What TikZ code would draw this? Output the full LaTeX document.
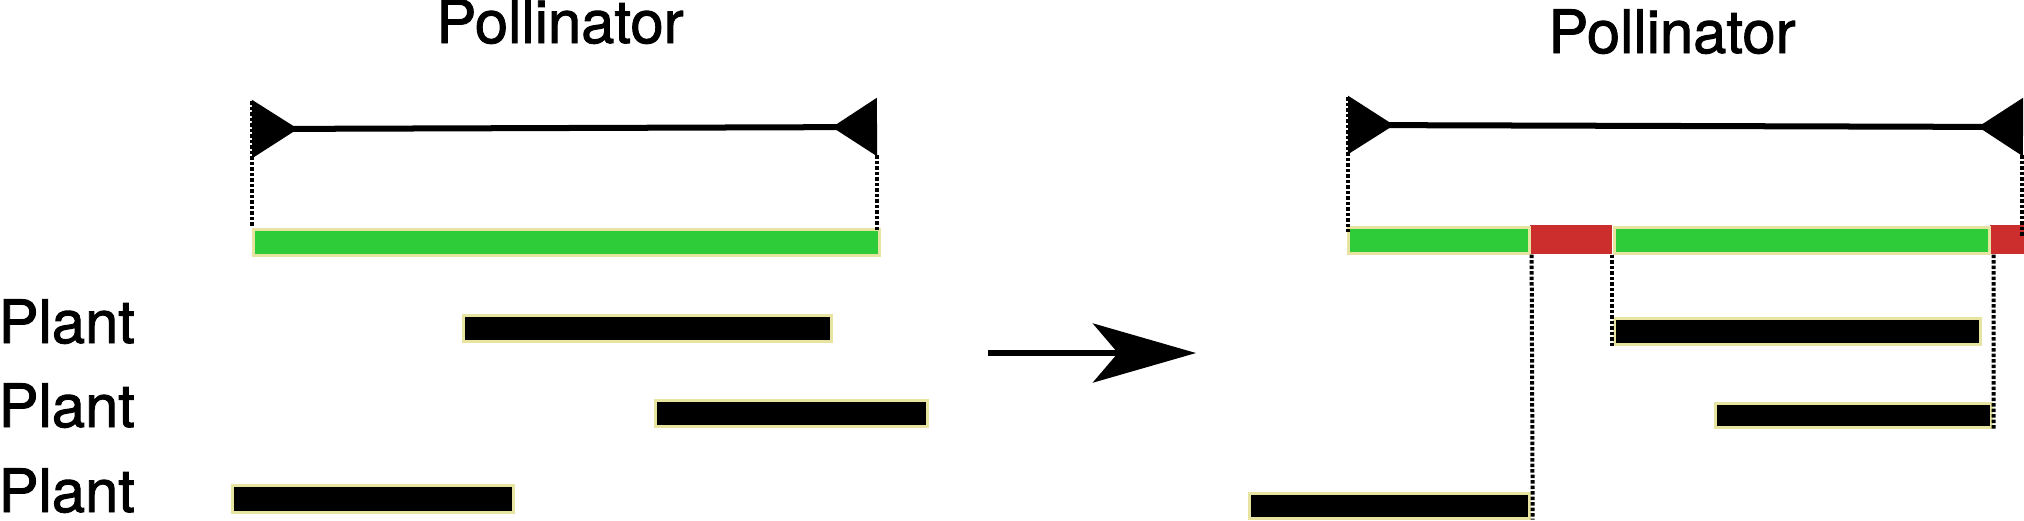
\documentclass[tikz,border=0pt]{standalone}
\usepackage{fontspec}
\setmainfont{TeX Gyre Heros}[FakeBold=1.5]
\usetikzlibrary{arrows.meta, positioning}
\definecolor{pollgreen}{RGB}{46,204,56}
\definecolor{gapred}{RGB}{204,46,46}
\definecolor{edgeyellow}{RGB}{230,228,160}

\begin{document}
\begin{tikzpicture}[x=0.01cm, y=-0.01cm,
    period/.style={rectangle, draw=edgeyellow, line width=0.03cm, inner sep=0pt, anchor=north west, minimum height=0.26cm},
    visit/.style={period, fill=pollgreen},
    flower/.style={period, fill=black},
    gap/.style={rectangle, fill=gapred, inner sep=0pt, anchor=north west, minimum height=0.29cm},
    link/.style={line width=0.04cm, dash pattern=on 0.035cm off 0.02cm},
    span/.style={line width=0.06cm, {Triangle[reversed, length=0.46cm, width=0.57cm]}-{Triangle[reversed, length=0.45cm, width=0.57cm]}},
    title/.style={font=\fontsize{17pt}{20pt}\selectfont, inner sep=0pt, anchor=base},
    plantlabel/.style={title, anchor=base west}, >=Stealth
    ]
    \useasboundingbox (0,0) rectangle (2024,520);

    % before
    \node[title] (pollA) at (560,43) {Pollinator};
    \coordinate (la) at (252,129);
    \coordinate (lb) at (877,127);
    \node[visit, minimum width=6.26cm] (poll) at (251.5,227.5) {};
    \node[plantlabel] (plant1) at (-2,343) {Plant};
    \node[plantlabel] (plant2) at (-2,427) {Plant};
    \node[plantlabel] (plant3) at (-2,512) {Plant};
    \node[flower, minimum width=3.68cm] (p1) at (461.5,313.5) {};
    \node[flower, minimum width=2.72cm] (p2) at (653.5,398.5) {};
    \node[flower, minimum width=2.81cm, minimum height=0.27cm] (p3) at (230.5,483.5) {};

    \draw[span] (la) -- (lb);
    \draw[link] ([yshift=0.28cm]la) -- (la |- poll.north);
    \draw[link] ([yshift=-0.28cm]lb) -- ([yshift=-0.04cm]lb |- poll.north);

    % arrow
    \coordinate (from) at (988,353);
    \coordinate (to) at (1196,353);
    \draw[-{Stealth[length=1.03cm, width=0.59cm, inset=0.25cm]}, line width=0.06cm] (from) -- (to);

    % after
    \node[title] (pollB) at (1672,53) {Pollinator};
    \coordinate (ra) at (1348,125);
    \coordinate (rb) at (2023,127);
    \node[gap, minimum width=0.82cm] (r1) at (1529,224) {};
    \node[gap, minimum width=0.40cm] (r2) at (1989,224) {};
    \node[visit, minimum width=1.81cm] (g1) at (1346.5,225.5) {};
    \node[visit, minimum width=3.75cm] (g2) at (1612.5,225.5) {};
    \node[flower, minimum width=3.66cm] (q1) at (1612.5,316.5) {};
    \node[flower, minimum width=2.76cm, minimum height=0.24cm] (q2) at (1713.5,401.5) {};
    \node[flower, minimum width=2.80cm, minimum height=0.25cm] (q3) at (1247.5,491.5) {};

    \draw[span] (ra) -- (rb);
    \draw[link] ([yshift=0.28cm]ra) -- ([yshift=-0.06cm]ra |- g1.north);
    \draw[link] ([xshift=0.01cm]g1.south east) -- ([xshift=0.02cm]q3.south east);
    \draw[link] ([xshift=-0.01cm]g2.south west) -- ([xshift=-0.01cm]q1.south west);
    \draw[link] ([xshift=0.03cm]g2.south east) -- ([xshift=0.01cm]q2.south east);
    \draw[link] ([xshift=-0.01cm, yshift=-0.28cm]rb) -- ([xshift=-0.01cm, yshift=-0.1cm]rb |- g2.north);
\end{tikzpicture}
\end{document}
